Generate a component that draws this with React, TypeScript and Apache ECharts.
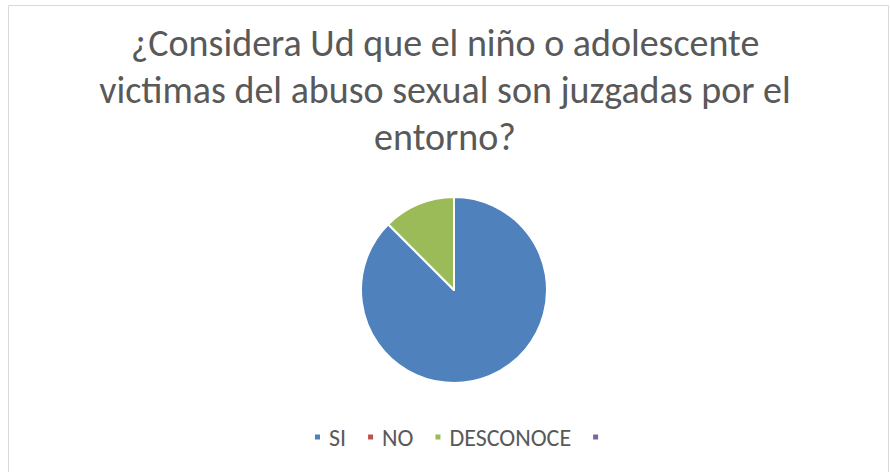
import React, { useEffect, useRef } from "react";
import * as echarts from "echarts";

const categories = ["SI", "NO", "DESCONOCE", ""];
const values = [87.5, 0, 12.5, 0];
const colors = ["#4F81BD", "#C0504D", "#9BBB59", "#8064A2"];
const titleLines = [
  "¿Considera Ud que el niño o adolescente",
  "victimas del abuso sexual son juzgadas por el",
  "entorno?",
];

export default function App() {
  const ref = useRef<HTMLDivElement>(null);
  useEffect(() => {
    const chart = echarts.init(ref.current!, null, { renderer: "svg" });
    const font = "Carlito, 'Liberation Sans Narrow', 'Open Sans', sans-serif";
    chart.setOption({
      animation: false,
      backgroundColor: "#ffffff",
      title: {
        text: titleLines.join("\n"),
        left: "center",
        top: 14,
        textStyle: {
          fontFamily: font,
          fontSize: 38,
          fontWeight: "normal",
          color: "#595959",
          lineHeight: 47,
        },
      },
      legend: {
        bottom: 23,
        left: 313,
        padding: 0,
        itemWidth: 7,
        itemHeight: 7,
        itemGap: 20,
        icon: "rect",
        textStyle: { fontFamily: font, fontSize: 24, color: "#595959", padding: [0, 0, 0, 3] },
        data: categories.map((c) => ({ name: c === "" ? " " : c })),
      },
      graphic: [
        {
          type: "rect",
          shape: { x: 8.5, y: 5.5, width: 880, height: 480 },
          style: { fill: "none", stroke: "#D9D9D9", lineWidth: 1 },
          silent: true,
        },
      ],
      series: [
        {
          type: "pie",
          center: [454, 290],
          radius: 93,
          startAngle: 90,
          clockwise: true,
          label: { show: false },
          labelLine: { show: false },
          itemStyle: { borderColor: "#ffffff", borderWidth: 2 },
          emphasis: { disabled: true },
          data: categories.map((c, i) => ({
            name: c === "" ? " " : c,
            value: values[i],
            itemStyle: { color: colors[i] },
          })),
        },
      ],
    });
    return () => chart.dispose();
  }, []);
  return (
    <div
      ref={ref}
      style={{ position: "fixed", left: 0, top: 0, width: 890, height: 472 }}
    />
  );
}
